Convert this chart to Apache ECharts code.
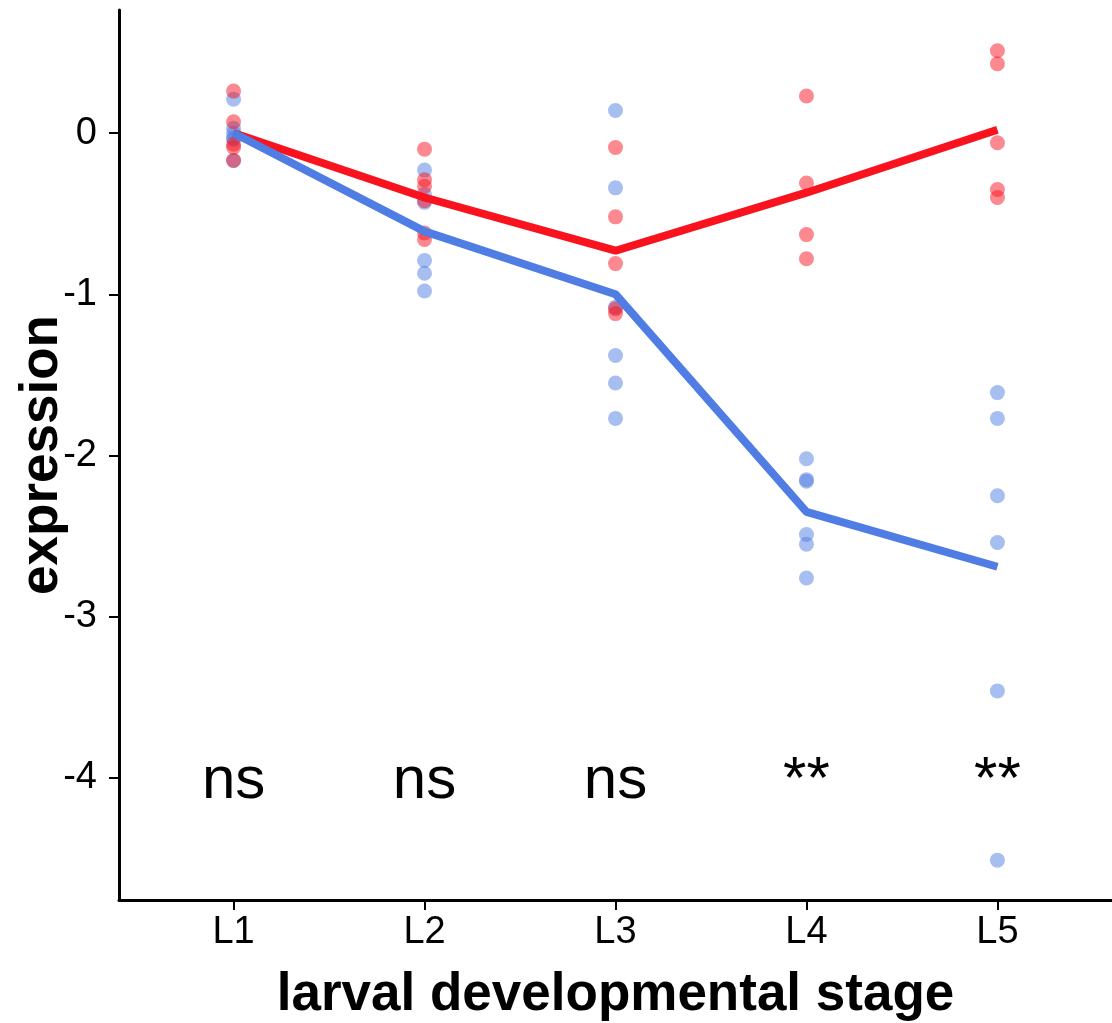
<!DOCTYPE html>
<html>
<head>
<meta charset="utf-8">
<script src="https://cdn.jsdelivr.net/npm/echarts@6/dist/echarts.min.js"></script>
<style>
  html, body { margin: 0; padding: 0; background: #fff; }
  #chart { width: 1112px; height: 1023px; }
</style>
</head>
<body>
<div id="chart"></div>
<script>
// stages on the x axis
const stages = ['L1', 'L2', 'L3', 'L4', 'L5']

// individual replicate values per stage (red group)
const redPoints = [
  [0.26, 0.07, -0.07, -0.09, -0.17],
  [-0.10, -0.29, -0.33, -0.42, -0.62, -0.66],
  [-0.09, -0.52, -0.81, -1.09, -1.12],
  [0.23, -0.31, -0.63, -0.78],
  [0.51, 0.43, -0.06, -0.35, -0.40]
]
// individual replicate values per stage (blue group)
const bluePoints = [
  [0.21, 0.03, 0.00, -0.03, -0.04, -0.17],
  [-0.23, -0.38, -0.43, -0.79, -0.87, -0.98],
  [0.14, -0.34, -1.08, -1.38, -1.55, -1.77],
  [-2.02, -2.15, -2.16, -2.49, -2.55, -2.76],
  [-1.61, -1.77, -2.25, -2.54, -3.46, -4.51]
]
// mean lines
const redMean = [0.0, -0.40, -0.73, -0.37, 0.02]
const blueMean = [0.0, -0.61, -1.0, -2.35, -2.69]

// significance labels
const sigLabels = ['ns', 'ns', 'ns', '**', '**']
const sigY = -4.02

const yTicks = [0, -1, -2, -3, -4]
const xTicks = [1, 2, 3, 4, 5]

const RED = '#F8131F'
const BLUE = '#4F7DE4'
const FONT = 'Liberation Sans'

const toScatter = (groups) => {
  const out = []
  groups.forEach((vals, i) => vals.forEach((v) => out.push([i + 1, v])))
  return out
}

const chart = echarts.init(document.getElementById('chart'))

chart.setOption({
  animation: false,
  grid: { left: 119, right: 0, top: 10, bottom: 123, containLabel: false, outerBoundsMode: 'none' },
  xAxis: {
    type: 'value',
    min: 0.4,
    max: 5.6,
    name: 'larval developmental stage',
    nameLocation: 'middle',
    nameGap: 69,
    nameMoveOverlap: false,
    nameTextStyle: { fontFamily: FONT, fontSize: 53, fontWeight: 'bold', color: '#000' },
    axisLine: { onZero: false, lineStyle: { color: '#000', width: 3 } },
    axisTick: { show: true, customValues: xTicks, length: 10, lineStyle: { color: '#000', width: 2 } },
    axisLabel: {
      customValues: xTicks,
      formatter: (v) => stages[Math.round(v) - 1],
      fontFamily: FONT,
      fontSize: 38,
      color: '#000',
      margin: 14
    },
    splitLine: { show: false }
  },
  yAxis: {
    type: 'value',
    min: -4.757,
    max: 0.763,
    name: 'expression',
    nameLocation: 'middle',
    nameGap: 50,
    nameRotate: 90,
    nameMoveOverlap: false,
    nameTextStyle: { fontFamily: FONT, fontSize: 53, fontWeight: 'bold', color: '#000' },
    axisLine: { show: true, onZero: false, lineStyle: { color: '#000', width: 3 } },
    axisTick: { show: true, customValues: yTicks, length: 10, lineStyle: { color: '#000', width: 2 } },
    axisLabel: {
      customValues: yTicks,
      formatter: (v) => String(Math.round(v)),
      fontFamily: FONT,
      fontSize: 38,
      color: '#000',
      margin: 22
    },
    splitLine: { show: false }
  },
  series: [
    {
      type: 'scatter',
      data: toScatter(bluePoints),
      symbolSize: 15,
      itemStyle: { color: BLUE, opacity: 0.5 }
    },
    {
      type: 'scatter',
      data: toScatter(redPoints),
      symbolSize: 15,
      itemStyle: { color: RED, opacity: 0.5 }
    },
    {
      type: 'line',
      data: redMean.map((v, i) => [i + 1, v]),
      showSymbol: false,
      lineStyle: { color: RED, width: 8 }
    },
    {
      type: 'line',
      data: blueMean.map((v, i) => [i + 1, v]),
      showSymbol: false,
      lineStyle: { color: BLUE, width: 8 }
    },
    {
      type: 'scatter',
      data: sigLabels.map((s, i) => ({ value: [i + 1, sigY], label: { formatter: s } })),
      symbolSize: 0,
      itemStyle: { opacity: 1 },
      label: {
        show: true,
        position: 'inside',
        fontFamily: FONT,
        fontSize: 60,
        color: '#000'
      }
    }
  ]
})
</script>
</body>
</html>
